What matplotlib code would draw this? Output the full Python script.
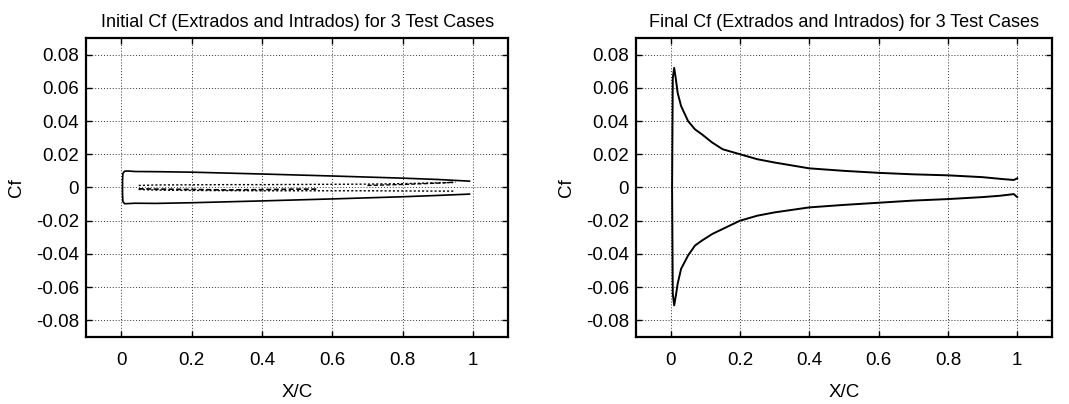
import matplotlib.pyplot as plt

# Initial Cf, case 1 (solid closed loop)
init1_x = [0.99, 0.9, 0.8, 0.6, 0.4, 0.2, 0.1, 0.04, 0.02, 0.01, 0.005, 0.004, 0.004, 0.005, 0.01, 0.02, 0.04, 0.1, 0.2, 0.4, 0.6, 0.8, 0.9, 0.99]
init1_y = [0.0038, 0.0048, 0.0056, 0.0069, 0.0081, 0.0092, 0.0095, 0.0096, 0.0099, 0.0098, 0.0085, 0.004, -0.004, -0.0085, -0.0098, -0.0097, -0.0095, -0.0096, -0.0092, -0.0081, -0.0069, -0.0056, -0.0048, -0.004]

# Initial Cf, case 2 (dotted)
init2_x = [0.05, 0.1, 0.2, 0.3, 0.4, 0.5, 0.6, 0.7, 0.8, 0.9, 0.95]
init2_up = [0.0012, 0.0015, 0.0016, 0.0017, 0.0017, 0.0018, 0.0019, 0.002, 0.0023, 0.0028, 0.003]
init2_lo = [-0.0012, -0.0016, -0.0018, -0.0019, -0.002, -0.002, -0.002, -0.002, -0.0021, -0.0022, -0.0022]

# Initial Cf, case 3 (dashed)
init3_x = [0.05, 0.1, 0.2, 0.3, 0.4, 0.5, 0.56]
init3_y = [-0.0008, -0.001, -0.0012, -0.0015, -0.0013, -0.001, -0.001]
init3b_x = [0.7, 0.8, 0.9, 0.95]
init3b_y = [0.0012, 0.0018, 0.0026, 0.0032]

# Final Cf (extrados and intrados)
fin_x = [0.004, 0.006, 0.01, 0.015, 0.02, 0.03, 0.05, 0.07, 0.09, 0.12, 0.15, 0.2, 0.25, 0.3, 0.4, 0.5, 0.6, 0.7, 0.8, 0.9, 0.95, 0.99, 1.0]
fin_up = [0.0, 0.066, 0.072, 0.065, 0.057, 0.049, 0.040, 0.035, 0.032, 0.027, 0.023, 0.020, 0.017, 0.015, 0.0115, 0.010, 0.0088, 0.0079, 0.0073, 0.0062, 0.0052, 0.0045, 0.0055]
fin_lo = [0.0, -0.064, -0.071, -0.065, -0.058, -0.049, -0.041, -0.035, -0.032, -0.028, -0.025, -0.020, -0.017, -0.015, -0.012, -0.0105, -0.0092, -0.0079, -0.007, -0.0058, -0.005, -0.004, -0.0058]

xticks = [0, 0.2, 0.4, 0.6, 0.8, 1]
xticklabels = ['0', '0.2', '0.4', '0.6', '0.8', '1']
yticks = [0.08, 0.06, 0.04, 0.02, 0, -0.02, -0.04, -0.06, -0.08]
yticklabels = ['0.08', '0.06', '0.04', '0.02', '0', '-0.02', '-0.04', '-0.06', '-0.08']

plt.rcParams['font.family'] = ['Liberation Sans', 'DejaVu Sans']

fig = plt.figure(figsize=(10.69, 4.04), dpi=100)
ax1 = fig.add_axes([0.0804, 0.166, 0.395, 0.74])
ax2 = fig.add_axes([0.595, 0.166, 0.389, 0.74])


def style_axes(ax, title):
    ax.set_xlim(-0.1, 1.1)
    ax.set_ylim(-0.09, 0.09)
    ax.set_xticks(xticks)
    ax.set_xticklabels(xticklabels)
    ax.set_yticks(yticks)
    ax.set_yticklabels(yticklabels)
    ax.tick_params(direction='in', length=4, width=1, labelsize=13.5, pad=11,
                   top=True, right=True)
    ax.tick_params(axis='y', pad=5)
    ax.grid(True, color='#333333', linestyle=(0, (1, 2)), linewidth=0.7)
    for s in ax.spines.values():
        s.set_linewidth(1.6)
    ax.set_title(title, fontsize=13, pad=8)
    ax.set_xlabel('X/C', fontsize=13.5, labelpad=11)
    ax.set_ylabel('Cf', fontsize=13.5, labelpad=8)


ax1.plot(init1_x, init1_y, color='black', linewidth=1.2)
ax1.plot(init2_x, init2_up, color='black', linewidth=1.0, linestyle=(0, (1.5, 1.5)))
ax1.plot(init2_x, init2_lo, color='black', linewidth=1.0, linestyle=(0, (1.5, 1.5)))
ax1.plot(init3_x, init3_y, color='black', linewidth=1.2, linestyle=(0, (3, 1.5)))
ax1.plot(init3b_x, init3b_y, color='black', linewidth=1.0, linestyle=(0, (3, 1.5)))
style_axes(ax1, 'Initial Cf (Extrados and Intrados) for 3 Test Cases')

ax2.plot(fin_x, fin_up, color='black', linewidth=1.4)
ax2.plot(fin_x, fin_lo, color='black', linewidth=1.4)
style_axes(ax2, 'Final Cf (Extrados and Intrados) for 3 Test Cases')

fig.savefig('out.png', dpi=100)
